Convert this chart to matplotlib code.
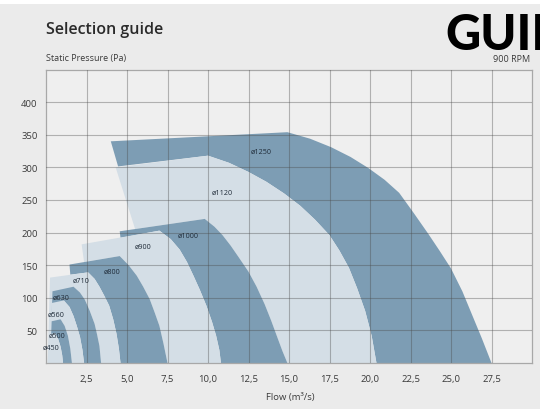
import matplotlib
matplotlib.use("Agg")
import matplotlib.pyplot as plt
from matplotlib.patches import Rectangle

plt.rcParams['font.family'] = ['Open Sans', 'DejaVu Sans']

# ---- data -------------------------------------------------------------
sizes = ['ø1250', 'ø1120', 'ø1000', 'ø900', 'ø800', 'ø710', 'ø630', 'ø560', 'ø500', 'ø450']
shade = ['dark', 'light', 'dark', 'light', 'dark', 'light', 'dark', 'light', 'dark', 'light']

# left edge of each envelope: bottom point -> top-left corner
edge_x = [[4.45, 4.0], [5.5, 4.3], [4.6, 4.55], [2.35, 2.2], [1.5, 1.45],
          [0.1, 0.25], [0.25, 0.4], [0.2, 0.35], [0.25, 0.35], [0.1, 0.2]]
edge_y = [[301.5, 340], [205.5, 300], [192, 202], [155, 182], [135.5, 151],
          [0, 131], [0, 110], [0, 92], [0, 64], [0, 44]]

# peak of the top edge, then the fan curve down to zero pressure
arc_x = [[14.9, 16.3, 17.6, 18.8, 19.9, 20.9, 21.8, 22.7, 23.6, 24.3, 25.0, 25.7, 26.3, 26.9, 27.5],
         [10.0, 11.3, 12.5, 13.6, 14.7, 15.7, 16.6, 17.5, 18.1, 18.7, 19.2, 19.7, 20.1, 20.4],
         [9.8, 10.4, 10.9, 11.4, 11.9, 12.5, 13.0, 13.5, 13.9, 14.3, 14.6, 14.9],
         [7.0, 7.7, 8.25, 8.7, 9.1, 9.5, 9.9, 10.25, 10.5, 10.7, 10.8],
         [4.55, 5.1, 5.6, 6.0, 6.4, 6.7, 7.0, 7.25, 7.5],
         [2.6, 3.0, 3.3, 3.6, 3.9, 4.15, 4.35, 4.5, 4.6],
         [1.7, 2.1, 2.4, 2.7, 3.0, 3.15, 3.3, 3.4],
         [1.1, 1.45, 1.7, 1.9, 2.1, 2.25, 2.35],
         [0.9, 1.15, 1.35, 1.5, 1.6],
         [0.55, 0.75, 0.9, 1.0, 1.05]]
arc_y = [[354, 344, 331, 316, 299, 281, 261, 230, 198, 172, 145, 110, 74, 38, 0],
         [318, 307, 293, 278, 260, 241, 220, 196, 173, 146, 115, 80, 42, 0],
         [221, 209, 196, 180, 162, 140, 117, 90, 65, 38, 18, 0],
         [203, 190, 174, 155, 134, 112, 88, 63, 42, 20, 0],
         [164, 150, 134, 117, 98, 78, 57, 30, 0],
         [139, 129, 117, 103, 88, 67, 45, 22, 0],
         [117, 108, 97, 80, 60, 44, 26, 0],
         [96, 86, 72, 57, 40, 20, 0],
         [67, 57, 42, 22, 0],
         [46, 37, 25, 12, 0]]

label_x = [13.3, 10.9, 8.8, 6.0, 4.1, 2.15, 0.9, 0.6, 0.7, 0.3]
label_y = [324, 261, 196, 179, 141, 127, 101, 75, 43, 24]

x_ticks = [2.5, 5.0, 7.5, 10.0, 12.5, 15.0, 17.5, 20.0, 22.5, 25.0, 27.5]
x_tick_labels = ['2,5', '5,0', '7,5', '10,0', '12,5', '15,0', '17,5', '20,0', '22,5', '25,0', '27,5']
y_ticks = [50, 100, 150, 200, 250, 300, 350, 400]
y_tick_labels = ['50', '100', '150', '200', '250', '300', '350', '400']

colors = {'dark': '#7d9db4', 'light': '#d4dee6'}

# ---- figure -----------------------------------------------------------
W, H = 540, 410
fig = plt.figure(figsize=(W / 100, H / 100), dpi=100, facecolor='#ebebeb')
fig.patches.append(Rectangle((0, 1 - 5 / H), 1, 5 / H, transform=fig.transFigure,
                             facecolor='white', edgecolor='none'))

ax = fig.add_axes([46 / W, 1 - 364 / H, (532 - 46) / W, (364 - 70.6) / H])
ax.set_xlim(0, 30)
ax.set_ylim(0, 450)
ax.set_facecolor('#efefef')

n = len(sizes)
for i in range(n):
    xs = list(edge_x[i]) + list(arc_x[i])
    ys = list(edge_y[i]) + list(arc_y[i])
    if i + 1 < n:
        xs += list(arc_x[i + 1])[::-1]
        ys += list(arc_y[i + 1])[::-1]
    ax.fill(xs, ys, facecolor=colors[shade[i]], edgecolor='none', zorder=1)
    ax.text(label_x[i], label_y[i], sizes[i], fontsize=5.2, color='#1f2b38',
            ha='center', va='center', zorder=4)

ax.set_xticks(x_ticks)
ax.set_xticklabels(x_tick_labels)
ax.set_yticks(y_ticks)
ax.set_yticklabels(y_tick_labels)
ax.tick_params(length=0, labelsize=6.8, labelcolor='#3a3a3a')
ax.tick_params(axis='y', pad=6)
ax.tick_params(axis='x', pad=8)
ax.set_axisbelow(False)
ax.grid(True, color='#4a4a4a', alpha=0.38, linewidth=0.8)
for s in ax.spines.values():
    s.set_color('#a8a8a8')
    s.set_linewidth(0.9)

fig.text(46 / W, 1 - 30 / H, 'Selection guide', fontsize=11.5, fontweight='semibold',
         color='#2a2a2a', ha='left', va='center')
fig.text(46 / W, 1 - 58 / H, 'Static Pressure (Pa)', fontsize=6.5, color='#3a3a3a',
         ha='left', va='center')
fig.text(530 / W, 1 - 59 / H, '900 RPM', fontsize=6.5, color='#3a3a3a',
         ha='right', va='center')
fig.text(445 / W, 1 - 50 / H, 'GUIDE', fontsize=35, fontweight='black',
         family=['Lato', 'Roboto', 'DejaVu Sans'], color='black', ha='left', va='baseline')
fig.text(290 / W, 1 - 398 / H, 'Flow (m³/s)', fontsize=6.8, color='#3a3a3a',
         ha='center', va='center')

fig.savefig('out.png', dpi=100, facecolor=fig.get_facecolor())
